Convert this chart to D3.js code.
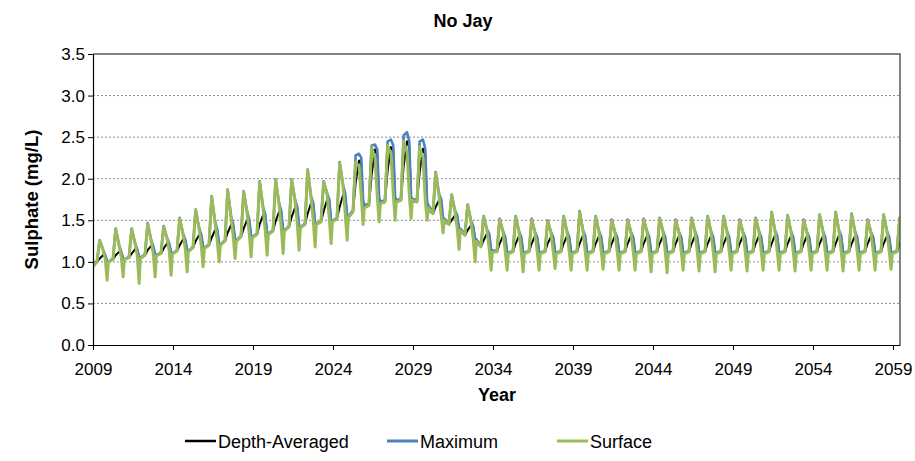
<!DOCTYPE html>
<html><head><meta charset="utf-8">
<script src="https://cdn.jsdelivr.net/npm/d3@7/dist/d3.min.js"></script>
<style>
body{margin:0;background:#fff;}
svg{font-family:"Liberation Sans",Arial,sans-serif;}
</style></head>
<body><svg id="chart" width="915" height="461"></svg>
<script>
// ---- data ----
const years = [2009,2010,2011,2012,2013,2014,2015,2016,2017,2018,2019,2020,2021,2022,2023,2024,2025,2026,2027,2028,2029,2030,2031,2032,2033,2034,2035,2036,2037,2038,2039,2040,2041,2042,2043,2044,2045,2046,2047,2048,2049,2050,2051,2052,2053,2054,2055,2056,2057,2058,2059];
// month-of-year positions of the values given for each year
const keyMonths = [3, 5, 7.5, 9.2, 10.6, 11.5];
const startValues = {depth: 0.96, max: 0.96, surface: 0.94};  // at 1 Jan 2009
const xTickYears = [2009,2014,2019,2024,2029,2034,2039,2044,2049,2054,2059];
const yTicks = [0,0.5,1,1.5,2,2.5,3,3.5];
const seriesNames = ["Depth-Averaged","Maximum","Surface"];
const seriesColors = ["#000000","#4F81BD","#9BBB59"];

const surface = [
[1.00,1.25,1.14,1.04,0.78,1.00],[1.03,1.39,1.20,1.06,0.82,1.03],[1.05,1.39,1.22,1.08,0.74,1.04],
[1.08,1.46,1.26,1.10,0.82,1.07],[1.10,1.42,1.28,1.13,0.84,1.09],[1.13,1.52,1.33,1.16,0.88,1.12],
[1.17,1.62,1.40,1.20,0.94,1.16],[1.20,1.78,1.48,1.25,1.00,1.20],[1.25,1.86,1.54,1.30,1.04,1.25],
[1.30,1.84,1.60,1.34,1.06,1.29],[1.33,1.96,1.65,1.38,1.08,1.33],[1.37,1.98,1.70,1.42,1.10,1.37],
[1.42,1.98,1.74,1.46,1.14,1.41],[1.45,2.10,1.78,1.50,1.18,1.45],[1.48,1.96,1.82,1.53,1.22,1.48],
[1.52,2.19,1.92,1.58,1.26,1.54],[1.60,2.20,2.15,1.80,1.45,1.65],[1.68,2.38,2.25,1.80,1.48,1.70],
[1.72,2.40,2.30,1.82,1.50,1.72],[1.74,2.45,2.32,1.82,1.52,1.74],[1.72,2.38,2.25,1.75,1.50,1.65],
[1.58,2.07,1.80,1.55,1.35,1.50],[1.45,1.80,1.60,1.40,1.15,1.38],[1.32,1.68,1.48,1.28,1.00,1.25],
[1.18,1.54,1.38,1.15,0.90,1.12],[1.12,1.51,1.36,1.13,0.90,1.10],[1.12,1.54,1.36,1.13,0.88,1.10],
[1.12,1.51,1.35,1.12,0.90,1.10],[1.12,1.49,1.35,1.13,0.92,1.10],[1.12,1.54,1.36,1.13,0.90,1.10],
[1.12,1.60,1.37,1.13,0.90,1.10],[1.12,1.54,1.36,1.13,0.91,1.10],[1.12,1.50,1.35,1.12,0.90,1.10],
[1.12,1.50,1.35,1.13,0.90,1.10],[1.12,1.51,1.36,1.13,0.88,1.10],[1.12,1.52,1.36,1.13,0.87,1.10],
[1.12,1.50,1.35,1.13,0.90,1.10],[1.12,1.52,1.36,1.13,0.89,1.10],[1.12,1.54,1.36,1.13,0.88,1.10],
[1.12,1.54,1.36,1.13,0.90,1.10],[1.12,1.50,1.35,1.13,0.89,1.10],[1.12,1.52,1.36,1.13,0.90,1.10],
[1.12,1.59,1.37,1.13,0.90,1.10],[1.12,1.55,1.36,1.13,0.89,1.10],[1.12,1.50,1.35,1.13,0.90,1.10],
[1.12,1.56,1.36,1.13,0.90,1.10],[1.12,1.59,1.37,1.13,0.89,1.10],[1.12,1.57,1.36,1.13,0.90,1.10],
[1.12,1.50,1.35,1.13,0.90,1.10],[1.12,1.56,1.36,1.13,0.91,1.10],[1.12,1.52,1.36,1.13,0.90,1.10]
];
const maximum = [
[1.01,1.26,1.15,1.08,1.01,1.00],[1.04,1.40,1.21,1.12,1.04,1.03],[1.06,1.40,1.23,1.15,1.06,1.05],
[1.09,1.47,1.27,1.19,1.09,1.08],[1.11,1.43,1.29,1.22,1.11,1.10],[1.14,1.53,1.34,1.27,1.14,1.13],
[1.18,1.63,1.41,1.33,1.18,1.17],[1.21,1.79,1.49,1.39,1.21,1.21],[1.26,1.87,1.55,1.45,1.26,1.26],
[1.31,1.85,1.61,1.51,1.31,1.30],[1.34,1.97,1.66,1.57,1.34,1.34],[1.38,1.99,1.71,1.61,1.38,1.38],
[1.43,1.99,1.75,1.66,1.43,1.42],[1.46,2.11,1.79,1.71,1.46,1.46],[1.49,1.97,1.83,1.75,1.49,1.49],
[1.53,2.20,1.93,1.82,1.55,1.55],[1.62,2.28,2.30,2.25,1.75,1.68],[1.70,2.40,2.41,2.35,1.78,1.72],
[1.74,2.45,2.47,2.40,1.78,1.74],[1.76,2.52,2.56,2.45,1.78,1.76],[1.74,2.45,2.47,2.36,1.72,1.68],
[1.60,2.08,1.82,1.75,1.52,1.52],[1.47,1.81,1.62,1.56,1.40,1.40],[1.34,1.69,1.50,1.43,1.28,1.27],
[1.20,1.55,1.39,1.34,1.15,1.14],[1.13,1.52,1.37,1.30,1.12,1.11],[1.13,1.55,1.37,1.30,1.12,1.11],
[1.13,1.52,1.36,1.30,1.12,1.11],[1.13,1.50,1.36,1.30,1.12,1.11],[1.13,1.55,1.37,1.30,1.12,1.11],
[1.13,1.61,1.38,1.31,1.12,1.11],[1.13,1.55,1.37,1.30,1.12,1.11],[1.13,1.51,1.36,1.30,1.12,1.11],
[1.13,1.51,1.36,1.30,1.12,1.11],[1.13,1.52,1.37,1.30,1.12,1.11],[1.13,1.53,1.37,1.30,1.12,1.11],
[1.13,1.51,1.36,1.30,1.12,1.11],[1.13,1.53,1.37,1.30,1.12,1.11],[1.13,1.55,1.37,1.30,1.12,1.11],
[1.13,1.55,1.37,1.30,1.12,1.11],[1.13,1.51,1.36,1.30,1.12,1.11],[1.13,1.53,1.37,1.30,1.12,1.11],
[1.13,1.60,1.38,1.31,1.12,1.11],[1.13,1.56,1.37,1.30,1.12,1.11],[1.13,1.51,1.36,1.30,1.12,1.11],
[1.13,1.57,1.37,1.30,1.12,1.11],[1.13,1.60,1.38,1.31,1.12,1.11],[1.13,1.58,1.37,1.30,1.12,1.11],
[1.13,1.51,1.36,1.30,1.12,1.11],[1.13,1.57,1.37,1.30,1.12,1.11],[1.13,1.53,1.37,1.30,1.12,1.11]
];
const depthAveraged = [
[1.00,1.04,1.08,1.07,1.01,1.00],[1.03,1.08,1.12,1.11,1.04,1.03],[1.05,1.10,1.15,1.14,1.06,1.05],
[1.08,1.14,1.19,1.18,1.09,1.08],[1.10,1.16,1.22,1.21,1.11,1.10],[1.13,1.20,1.27,1.26,1.14,1.13],
[1.17,1.25,1.32,1.31,1.18,1.17],[1.20,1.29,1.38,1.37,1.21,1.20],[1.25,1.35,1.44,1.43,1.26,1.25],
[1.30,1.40,1.50,1.49,1.31,1.30],[1.33,1.45,1.56,1.55,1.34,1.33],[1.37,1.49,1.60,1.59,1.38,1.37],
[1.42,1.54,1.65,1.64,1.43,1.41],[1.45,1.58,1.70,1.69,1.46,1.45],[1.48,1.61,1.74,1.73,1.49,1.48],
[1.52,1.66,1.80,1.79,1.54,1.53],[1.60,1.95,2.22,2.18,1.70,1.65],[1.68,2.05,2.35,2.30,1.74,1.70],
[1.72,2.10,2.38,2.34,1.75,1.72],[1.74,2.15,2.45,2.40,1.75,1.73],[1.72,2.08,2.36,2.30,1.68,1.62],
[1.58,1.66,1.74,1.70,1.50,1.48],[1.45,1.50,1.56,1.53,1.38,1.37],[1.32,1.38,1.44,1.41,1.26,1.25],
[1.18,1.26,1.34,1.31,1.14,1.12],[1.12,1.22,1.31,1.28,1.12,1.10],[1.12,1.22,1.31,1.28,1.12,1.10],
[1.12,1.22,1.31,1.28,1.12,1.10],[1.12,1.22,1.30,1.28,1.12,1.10],[1.12,1.22,1.31,1.28,1.12,1.10],
[1.12,1.22,1.32,1.29,1.12,1.10],[1.12,1.22,1.31,1.28,1.12,1.10],[1.12,1.22,1.31,1.28,1.12,1.10],
[1.12,1.22,1.31,1.28,1.12,1.10],[1.12,1.22,1.31,1.28,1.12,1.10],[1.12,1.22,1.31,1.28,1.12,1.10],
[1.12,1.22,1.31,1.28,1.12,1.10],[1.12,1.22,1.31,1.28,1.12,1.10],[1.12,1.22,1.31,1.28,1.12,1.10],
[1.12,1.22,1.31,1.28,1.12,1.10],[1.12,1.22,1.31,1.28,1.12,1.10],[1.12,1.22,1.31,1.28,1.12,1.10],
[1.12,1.22,1.32,1.29,1.12,1.10],[1.12,1.22,1.31,1.28,1.12,1.10],[1.12,1.22,1.31,1.28,1.12,1.10],
[1.12,1.22,1.31,1.28,1.12,1.10],[1.12,1.22,1.32,1.29,1.12,1.10],[1.12,1.22,1.31,1.28,1.12,1.10],
[1.12,1.22,1.31,1.28,1.12,1.10],[1.12,1.22,1.31,1.28,1.12,1.10],[1.12,1.22,1.31,1.28,1.12,1.10]
];

// ---- layout ----
const svg = d3.select("#chart");
const m = {left: 93, top: 54, right: 900, bottom: 345};
const x = d3.scaleLinear().domain([2009, 2059.44]).range([m.left, m.right]);
const y = d3.scaleLinear().domain([0, 3.5]).range([m.bottom, m.top]);

function toPoints(rows, start) {
  const pts = [{t: years[0], v: start}];
  rows.forEach((row, i) => row.forEach((v, k) => pts.push({t: years[i] + keyMonths[k] / 12, v})));
  return pts;
}
const seriesData = [
  toPoints(depthAveraged, startValues.depth),
  toPoints(maximum, startValues.max),
  toPoints(surface, startValues.surface)
];

// gridlines
svg.append("g").selectAll("line").data(yTicks.filter(d => d > 0 && d < 3.5)).join("line")
  .attr("x1", m.left).attr("x2", m.right)
  .attr("y1", d => y(d)).attr("y2", d => y(d))
  .attr("stroke", "#8c8c8c").attr("stroke-width", 1).attr("stroke-dasharray", "2,2");

// clip
svg.append("clipPath").attr("id", "clip").append("rect")
  .attr("x", m.left).attr("y", m.top - 5).attr("width", m.right - m.left).attr("height", m.bottom - m.top + 5);

const line = d3.line().x(d => x(d.t)).y(d => y(d.v));
const widths = [2, 2.6, 3];
const gLines = svg.append("g").attr("clip-path", "url(#clip)");
seriesData.forEach((pts, i) => {
  gLines.append("path").datum(pts).attr("d", line)
    .attr("fill", "none").attr("stroke", seriesColors[i]).attr("stroke-width", widths[i])
    .attr("stroke-linejoin", "round").attr("stroke-linecap", "round");
});

// border (top & right)
svg.append("path")
  .attr("d", `M${m.left},${m.top}H${m.right}V${m.bottom}`)
  .attr("fill", "none").attr("stroke", "#595959").attr("stroke-width", 1.5);

// axes
const yAxis = d3.axisLeft(y).tickValues(yTicks).tickFormat(d3.format(".1f")).tickSize(5).tickSizeOuter(0);
const gy = svg.append("g").attr("transform", `translate(${m.left},0)`).call(yAxis);
const xAxis = d3.axisBottom(x).tickValues(xTickYears).tickFormat(d3.format("d")).tickSize(5).tickSizeOuter(0);
const gx = svg.append("g").attr("transform", `translate(0,${m.bottom})`).call(xAxis);
[gx, gy].forEach(g => {
  g.select(".domain").attr("stroke", "#000").attr("stroke-width", 1.2);
  g.selectAll(".tick line").attr("stroke", "#000");
  g.selectAll(".tick text").attr("font-size", 17).attr("fill", "#000")
    .attr("font-family", "'Liberation Sans', Arial, sans-serif");
});
gy.selectAll(".tick text").attr("x", -8);
gx.selectAll(".tick text").attr("y", 18);

// titles
svg.append("text").attr("x", 463).attr("y", 27).attr("text-anchor", "middle")
  .attr("font-size", 18).attr("font-weight", "bold").text("No Jay");
svg.append("text").attr("transform", `translate(38,${(m.top + m.bottom) / 2}) rotate(-90)`)
  .attr("text-anchor", "middle").attr("font-size", 18.5).attr("font-weight", "bold").text("Sulphate (mg/L)");
svg.append("text").attr("x", 497).attr("y", 401).attr("text-anchor", "middle")
  .attr("font-size", 18).attr("font-weight", "bold").text("Year");

// legend
const legendX = [185, 387, 557];
const lg = svg.append("g");
seriesNames.forEach((name, i) => {
  lg.append("line").attr("x1", legendX[i]).attr("x2", legendX[i] + 31)
    .attr("y1", 441).attr("y2", 441).attr("stroke", seriesColors[i]).attr("stroke-width", i === 0 ? 2.5 : 3);
  lg.append("text").attr("x", legendX[i] + 33).attr("y", 447.5)
    .attr("font-size", 18).text(name);
});
</script></body></html>
